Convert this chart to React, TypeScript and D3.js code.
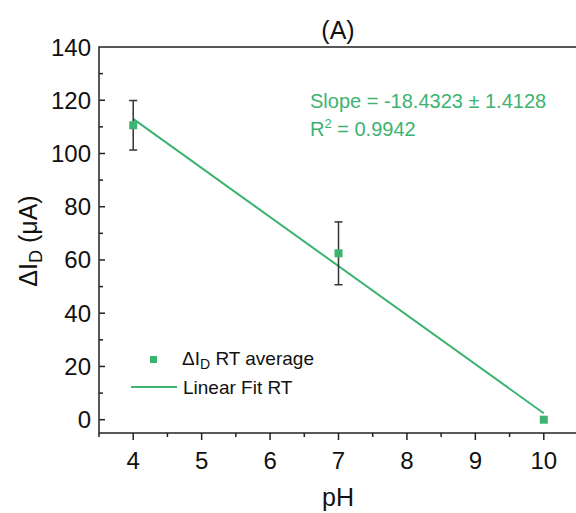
import React from "react";
import * as d3 from "d3";

const phValues = [4, 7, 10];
const deltaId = [110.6, 62.5, 0];
const errors = [9.3, 11.8, 0];
const xTicks = [4, 5, 6, 7, 8, 9, 10];
const yTicks = [0, 20, 40, 60, 80, 100, 120, 140];
const xDomain = [3.5, 10.5];
const yDomain = [-5, 140];
const slopeText = "Slope = -18.4323 \u00b1 1.4128";
const r2Value = "0.9942";
const legendPoint = "RT average";
const legendLine = "Linear Fit RT";
const titleText = "(A)";

const GREEN = "#3cb371";
const FONT = "'Liberation Sans', Arial, Helvetica, sans-serif";

export default function App() {
  const W = 576, H = 513;
  const left = 99, right = 578, top = 47, bottom = 433;
  const x = d3.scaleLinear().domain(xDomain).range([left, right]);
  const y = d3.scaleLinear().domain(yDomain).range([bottom, top]);

  // least squares fit
  const mx = d3.mean(phValues)!;
  const my = d3.mean(deltaId)!;
  const sxy = d3.sum(phValues.map((v, i) => (v - mx) * (deltaId[i] - my)));
  const sxx = d3.sum(phValues.map((v) => (v - mx) ** 2));
  const slope = sxy / sxx;
  const intercept = my - slope * mx;
  const fitX = [phValues[0], phValues[phValues.length - 1]];
  const fitLine = d3
    .line<number>()
    .x((d) => x(d))
    .y((d) => y(intercept + slope * d))(fitX);

  const xMinor = d3.range(xDomain[0], xDomain[1] + 0.01, 0.5).filter((v) => !xTicks.includes(v));
  const yMinor = d3.range(10, 140, 20);

  return (
    <svg
      width={W}
      height={H}
      style={{ position: "absolute", left: 0, top: 0, display: "block", background: "#fff" }}
      fontFamily={FONT}
    >
      <rect x={0} y={0} width={W} height={H} fill="#fff" />
      <text x={338} y={39} fontSize={25} textAnchor="middle" fill="#111">
        {titleText}
      </text>

      {/* frame */}
      <rect x={left} y={top} width={right - left} height={bottom - top} fill="none" stroke="#222" strokeWidth={1.5} />

      {/* x ticks (outward) */}
      {xTicks.map((t) => (
        <g key={"xt" + t}>
          <line x1={x(t)} x2={x(t)} y1={bottom} y2={bottom + 7} stroke="#222" strokeWidth={1.5} />
          <text x={x(t)} y={bottom + 36} fontSize={24} textAnchor="middle" fill="#111">
            {t}
          </text>
        </g>
      ))}
      {xMinor.map((t) => (
        <line key={"xm" + t} x1={x(t)} x2={x(t)} y1={bottom} y2={bottom + 4} stroke="#222" strokeWidth={1.5} />
      ))}

      {/* y ticks (inward) */}
      {yTicks.map((t) => (
        <g key={"yt" + t}>
          {t < 140 && <line x1={left} x2={left + 6} y1={y(t)} y2={y(t)} stroke="#222" strokeWidth={1.5} />}
          <text x={91} y={y(t) + 8.5} fontSize={24} textAnchor="end" fill="#111">
            {t}
          </text>
        </g>
      ))}
      {yMinor.map((t) => (
        <line key={"ym" + t} x1={left} x2={left + 4} y1={y(t)} y2={y(t)} stroke="#222" strokeWidth={1.5} />
      ))}

      {/* axis titles */}
      <text x={338} y={506} fontSize={25} textAnchor="middle" fill="#111">
        pH
      </text>
      <text transform={`translate(37, 241) rotate(-90)`} fontSize={25} textAnchor="middle" fill="#111">
        {"\u0394I"}
        <tspan fontSize={18} dy={5}>D</tspan>
        <tspan dy={-5}>{" (\u03bcA)"}</tspan>
      </text>

      {/* fit line */}
      <path d={fitLine || ""} fill="none" stroke={GREEN} strokeWidth={2} />

      {/* error bars */}
      {phValues.map((p, i) =>
        errors[i] > 0 ? (
          <g key={"eb" + i} stroke="#333" strokeWidth={1.5}>
            <line x1={x(p)} x2={x(p)} y1={y(deltaId[i] + errors[i])} y2={y(deltaId[i] - errors[i])} />
            <line x1={x(p) - 4} x2={x(p) + 4} y1={y(deltaId[i] + errors[i])} y2={y(deltaId[i] + errors[i])} />
            <line x1={x(p) - 4} x2={x(p) + 4} y1={y(deltaId[i] - errors[i])} y2={y(deltaId[i] - errors[i])} />
          </g>
        ) : null
      )}

      {/* points */}
      {phValues.map((p, i) => (
        <rect key={"pt" + i} x={x(p) - 4} y={y(deltaId[i]) - 4} width={8} height={8} fill={GREEN} />
      ))}

      {/* annotation */}
      <text x={310} y={108} fontSize={20} fill={GREEN}>
        {slopeText}
      </text>
      <text x={310} y={136} fontSize={20} fill={GREEN}>
        R<tspan fontSize={13} dy={-8}>2</tspan>
        <tspan dy={8}>{" = " + r2Value}</tspan>
      </text>

      {/* legend */}
      <rect x={150} y={356} width={7} height={7} fill={GREEN} />
      <text x={182} y={365} fontSize={19} fill="#111">
        {"\u0394I"}
        <tspan fontSize={14} dy={4}>D</tspan>
        <tspan dy={-4}>{" " + legendPoint}</tspan>
      </text>
      <line x1={131} x2={177} y1={387} y2={387} stroke={GREEN} strokeWidth={2} />
      <text x={183} y={394} fontSize={19} fill="#111">
        {legendLine}
      </text>
    </svg>
  );
}
